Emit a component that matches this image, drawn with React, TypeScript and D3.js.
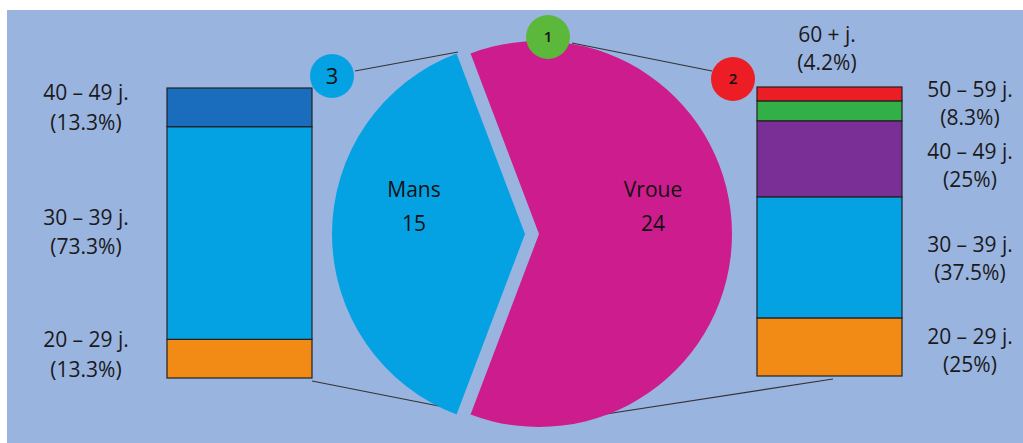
import React from "react";
import * as d3 from "d3";

// ---- Data ----
const pieLabels = ["Vroue", "Mans"];
const pieValues = [24, 15];
const pieColors = ["#CD1C8D", "#05A2E3"];

// Left bar (Mans), bottom -> top
const leftCats = ["20 – 29 j.", "30 – 39 j.", "40 – 49 j."];
const leftValues = [2, 11, 2];
const leftPct = ["(13.3%)", "(73.3%)", "(13.3%)"];
const leftColors = ["#F28A16", "#05A2E3", "#1A6CBD"];

// Right bar (Vroue), bottom -> top (drawn heights)
const rightCats = ["20 – 29 j.", "30 – 39 j.", "40 – 49 j.", "50 – 59 j.", "60 + j."];
const rightValues = [20.1, 41.9, 26.3, 6.9, 4.8];
const rightPct = ["(25%)", "(37.5%)", "(25%)", "(8.3%)", "(4.2%)"];
const rightColors = ["#F28A16", "#05A2E3", "#7A2F96", "#33AF47", "#EC1D25"];

const badgeLabels = ["1", "2", "3"];
const badgeColors = ["#5CB83A", "#EC1D25", "#05A2E3"];

const W = 1023;
const H = 443;
const FONT = "'Open Sans', 'Noto Sans', sans-serif";

function StackBar({ values, colors, x, y0, y1, width }: any) {
  const total = d3.sum(values);
  const y = d3.scaleLinear().domain([0, total]).range([y1, y0]);
  let acc = 0;
  return (
    <g>
      {values.map((v: number, i: number) => {
        const a = acc;
        acc += v;
        return (
          <rect
            key={i}
            x={x}
            y={y(acc)}
            width={width}
            height={y(a) - y(acc)}
            fill={colors[i]}
            stroke="#222"
            strokeWidth={1.2}
          />
        );
      })}
    </g>
  );
}

export default function App() {
  const cx = 532;
  const cy = 234;
  const r = 193;
  const explode = 7;
  const pinkSpan = (pieValues[0] / d3.sum(pieValues)) * 2 * Math.PI;
  const start = Math.PI / 2 - pinkSpan / 2;
  const pie = d3
    .pie<number>()
    .sort(null)
    .value((d) => d)
    .startAngle(start)
    .endAngle(start + 2 * Math.PI);
  const arcs = pie(pieValues);
  const arcGen = d3.arc<any>().innerRadius(0).outerRadius(r);

  const lx = 167, lw = 145, ly0 = 88, ly1 = 378;
  const rx = 757, rw = 145, ry0 = 87, ry1 = 376;

  const lineStyle = { stroke: "#333", strokeWidth: 1.2 };
  const textStyle: any = { fontFamily: FONT, fontSize: 21, fill: "#1a1a1a", textAnchor: "middle" };

  const leftLabelY = [[340, 370], [218, 247], [93, 123]];
  const rightLabelPos = [
    [970, 337, 365],
    [970, 245, 273],
    [970, 152, 180],
    [970, 90, 118],
    [827, 35, 63],
  ];

  const badges = [
    [548, 37],
    [733, 79],
    [332, 76],
  ];

  const pieText: any = { ...textStyle, fontSize: 21, fontWeight: 500, fill: "#111" };

  return (
    <svg
      width={W}
      height={H}
      style={{ position: "fixed", left: 0, top: 0, background: "#fff" }}
    >
      <rect x={7} y={10} width={W - 7} height={H - 10} fill="#9AB4E0" />

      {/* connector lines */}
      <line x1={355} y1={71} x2={458} y2={52} {...lineStyle} />
      <line x1={572} y1={43} x2={712} y2={71} {...lineStyle} />
      <line x1={312} y1={381} x2={454} y2={409} {...lineStyle} />
      <line x1={580} y1={418} x2={833} y2={379} {...lineStyle} />

      {/* pie */}
      {arcs.map((a, i) => {
        const mid = (a.startAngle + a.endAngle) / 2;
        const dx = Math.sin(mid) * explode;
        const dy = -Math.cos(mid) * explode;
        return (
          <path
            key={i}
            d={arcGen(a) as string}
            transform={`translate(${cx + dx},${cy + dy})`}
            fill={pieColors[i]}
          />
        );
      })}
      <text x={653} y={197} style={pieText}>{pieLabels[0]}</text>
      <text x={653} y={231} style={pieText}>{pieValues[0]}</text>
      <text x={414} y={197} style={pieText}>{pieLabels[1]}</text>
      <text x={414} y={231} style={pieText}>{pieValues[1]}</text>

      {/* bars */}
      <StackBar values={leftValues} colors={leftColors} x={lx} y0={ly0} y1={ly1} width={lw} />
      <StackBar values={rightValues} colors={rightColors} x={rx} y0={ry0} y1={ry1} width={rw} />

      {leftCats.map((c, i) => (
        <g key={c}>
          <text x={86} y={leftLabelY[i][0] + 7} style={textStyle}>{c}</text>
          <text x={86} y={leftLabelY[i][1] + 7} style={textStyle}>{leftPct[i]}</text>
        </g>
      ))}
      {rightCats.map((c, i) => (
        <g key={c}>
          <text x={rightLabelPos[i][0]} y={rightLabelPos[i][1] + 7} style={textStyle}>{c}</text>
          <text x={rightLabelPos[i][0]} y={rightLabelPos[i][2] + 7} style={textStyle}>{rightPct[i]}</text>
        </g>
      ))}

      {badges.map((b, i) => (
        <g key={i}>
          <circle cx={b[0]} cy={b[1]} r={22} fill={badgeColors[i]} />
          <text
            x={b[0]}
            y={b[1] + (i === 2 ? 8 : 5)}
            style={{ ...textStyle, fontSize: i === 2 ? 22 : 15, fontWeight: i === 2 ? 400 : 600, fill: "#111" }}
          >
            {badgeLabels[i]}
          </text>
        </g>
      ))}
    </svg>
  );
}
